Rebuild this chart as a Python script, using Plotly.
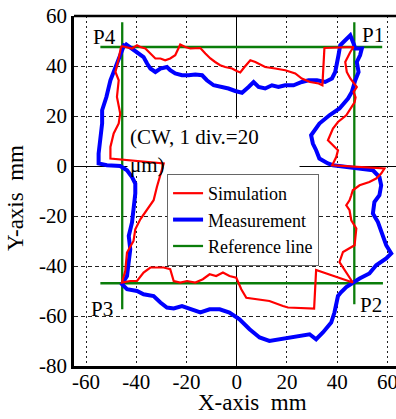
import plotly.graph_objects as go

# ---------------- data (mm) ----------------
sim_x = [-46.0, -43.7, -41.7, -39.7, -38.4, -36.4, -34.4, -32.4, -30.4, -28.5, -26.5, -24.5, -22.5, -20.5,
         -18.5, -16.5, -14.5, -12.5, -10.5, -8.6, -6.6, -4.6, -1.9, 0.0, 1.4, 3.0, 5.4, 7.4, 11.3, 15.3,
         19.3, 23.3, 25.9, 29.2, 32.6, 34.1, 34.9, 46.5, 45.2, 43.2, 43.8, 45.2, 47.8, 46.5, 47.3, 46.9,
         44.9, 43.6, 40.3, 38.3, 36.3, 38.3, 40.3, 39.6, 38.0, 58.8, 57.5, 55.5, 52.8, 48.9, 46.2, 45.6,
         44.9, 43.6, 44.9, 45.6, 47.6, 46.9, 42.3, 40.9, 42.9, 44.9, 46.2, 31.6, 30.8, 20.4, 18.4, 13.0,
         7.8, 3.8, 1.8, -0.2, -2.9, -5.5, -8.2, -10.8, -13.5, -16.5, -19.8, -22.5, -25.1, -26.5, -29.1,
         -31.8, -34.4, -37.1, -39.7, -42.4, -45.7, -44.4, -43.7, -41.1, -40.4, -38.4, -35.7, -33.1, -31.8,
         -30.4, -29.1, -50.3, -50.3, -49.0, -47.0, -46.4, -47.7, -47.0, -48.3, -47.0, -46.0]
sim_y = [48.0, 47.6, 47.0, 48.3, 47.6, 47.0, 45.0, 43.0, 43.0, 42.3, 43.0, 44.3, 48.6, 47.6,
         47.0, 47.2, 47.2, 45.0, 43.0, 41.6, 40.3, 39.6, 39.0, 38.0, 37.4, 39.5, 42.3, 41.6, 39.6, 39.0,
         38.3, 37.0, 35.0, 33.6, 33.0, 32.3, 47.2, 47.6, 45.6, 41.6, 37.6, 35.0, 31.6, 29.6, 27.5, 25.5,
         22.3, 20.3, 17.6, 15.0, 10.3, 8.3, 6.3, 3.6, 0.3, -1.0, -3.0, -5.0, -6.4, -7.7, -9.7, -11.7,
         -13.7, -15.7, -17.7, -21.7, -25.0, -31.7, -34.4, -38.4, -41.7, -45.0, -46.6, -41.6, -57.0, -56.6, -56.0, -54.0,
         -53.3, -52.7, -49.3, -44.7, -44.0, -42.6, -44.0, -43.3, -45.3, -46.6, -46.0, -46.6, -46.0, -41.3, -40.6,
         -40.6, -40.6, -42.6, -46.0, -46.0, -46.6, -42.0, -34.6, -30.0, -25.3, -21.3, -17.3, -13.7, -8.4,
         -3.0, 1.0, 3.0, 7.6, 13.0, 17.0, 21.0, 27.6, 34.3, 37.6, 43.0, 48.0]

meas_x = [-44.6, -41.7, -39.0, -37.1, -35.7, -34.4, -32.4, -30.4, -27.8, -26.5, -24.5, -21.8, -19.2, -16.5,
          -13.8, -11.9, -9.2, -5.9, -3.3, -0.6, 2.1, 4.7, 6.7, 8.7, 11.3, 14.0, 16.6, 19.3, 22.6, 25.9,
          28.6, 31.9, 35.2, 37.9, 39.2, 40.5, 41.2, 43.2, 45.2, 46.5, 47.2, 49.8, 49.1, 47.8, 48.5, 47.2,
          45.8, 44.3, 40.9, 36.9, 32.9, 29.6, 30.3, 31.6, 32.9, 36.3, 38.3, 54.2, 56.8, 57.5, 56.8, 54.8,
          54.2, 56.2, 58.2, 59.5, 61.5, 59.5, 55.5, 52.8, 48.9, 46.2, 43.6, 41.5, 40.3, 38.9, 37.6, 34.3,
          31.6, 29.0, 25.0, 21.0, 17.0, 13.0, 9.1, 5.1, 1.1, -2.9, -6.8, -10.8, -14.5, -18.5, -21.8, -25.1,
          -27.8, -30.4, -33.1, -37.1, -39.7, -43.7, -45.7, -43.7, -43.0, -42.4, -43.0, -41.7, -41.1, -40.4,
          -40.4, -41.7, -43.7, -46.4, -51.7, -55.0, -55.0, -54.3, -53.6, -53.6, -51.9, -50.3, -48.3, -47.0, -44.6]
meas_y = [49.0, 47.0, 45.0, 43.6, 41.0, 39.0, 37.6, 39.0, 39.6, 38.3, 37.0, 36.3, 36.3, 36.6,
          36.3, 34.3, 32.3, 31.6, 31.0, 30.0, 29.3, 31.6, 33.6, 31.6, 31.0, 32.3, 31.6, 32.3, 32.3, 33.6,
          34.3, 34.3, 33.6, 35.0, 37.6, 44.3, 48.3, 50.3, 52.3, 49.0, 47.0, 47.0, 44.3, 41.6, 37.6, 34.3,
          29.6, 27.0, 23.0, 20.3, 17.0, 12.3, 9.0, 6.3, 3.0, 1.0, 0.3, -1.7, -4.4, -7.7, -11.7, -14.4,
          -19.0, -22.4, -27.7, -31.7, -35.0, -37.0, -39.7, -43.0, -45.0, -46.6, -48.4, -50.5, -52.0, -58.6, -62.6, -66.6,
          -69.3, -67.3, -68.0, -68.6, -69.3, -70.0, -68.6, -65.3, -61.3, -58.6, -57.3, -57.3, -58.6, -57.3, -56.0, -57.0,
          -56.6, -54.6, -52.0, -51.3, -50.0, -49.3, -47.3, -44.0, -38.6, -33.3, -28.0, -22.6, -17.3, -11.0,
          -7.0, -4.4, -1.7, 0.0, 0.3, 1.0, 5.0, 10.3, 17.0, 22.3, 27.6, 34.3, 39.6, 43.6, 49.0]

ref_x = [-54.3, 57.9, None, -54.3, 58.2, None, -45.6, -45.6, None, 46.8, 46.8]
ref_y = [47.6, 47.6, None, -46.9, -46.9, None, 57.5, -57.3, None, 57.5, -55.3]

corner_labels = ["P1", "P2", "P3", "P4"]
corner_x = [54.2, 53.4, -53.7, -52.5]
corner_y = [52.3, -55.7, -57.3, 51.5]

x_ticks = [-60, -40, -20, 0, 20, 40, 60]
y_ticks = [-80, -60, -40, -20, 0, 20, 40, 60]

FONT = "Liberation Serif"

fig = go.Figure()
fig.add_trace(go.Scatter(x=ref_x, y=ref_y, mode="lines", name="Reference line",
                         line=dict(color="#0a7d0a", width=2.3), legendrank=3))
fig.add_trace(go.Scatter(x=meas_x, y=meas_y, mode="lines", name="Measurement",
                         line=dict(color="#0000ff", width=4), legendrank=2))
fig.add_trace(go.Scatter(x=sim_x, y=sim_y, mode="lines", name="Simulation",
                         line=dict(color="#ff0000", width=2.2), legendrank=1))

# white box behind note text (hides grid, not traces)
fig.add_shape(type="rect", xref="x", yref="y", x0=-43.5, x1=25, y0=-4, y1=19,
              fillcolor="white", line=dict(width=0), layer="between")
# top frame line
fig.add_shape(type="line", xref="paper", yref="paper", x0=0, x1=1, y0=1, y1=1,
              line=dict(color="black", width=2.5), layer="above")

for t, xx, yy in zip(corner_labels, corner_x, corner_y):
    fig.add_annotation(x=xx, y=yy, xref="x", yref="y", text=t, showarrow=False,
                       xanchor="center", yanchor="middle",
                       font=dict(family=FONT, size=21, color="black"))

fig.add_annotation(x=-43.5, y=11.5, xref="x", yref="y", text="(CW, 1 div.=20",
                   showarrow=False, xanchor="left", yanchor="middle",
                   font=dict(family=FONT, size=21, color="black"))
fig.add_annotation(x=-43.5, y=0.3, xref="x", yref="y", text="μm)",
                   showarrow=False, xanchor="left", yanchor="middle",
                   font=dict(family=FONT, size=21, color="black"))

# axis titles
fig.add_annotation(x=0.553, y=-0.104, xref="paper", yref="paper", text="X-axis  mm",
                   showarrow=False, xanchor="center", yanchor="middle",
                   font=dict(family=FONT, size=23, color="black"))
fig.add_annotation(x=-0.183, y=0.48, xref="paper", yref="paper", text="Y-axis  mm", textangle=-90,
                   showarrow=False, xanchor="center", yanchor="middle",
                   font=dict(family=FONT, size=23, color="black"))

common = dict(showgrid=True, gridcolor="#222", gridwidth=1,
              zeroline=True, zerolinecolor="black", zerolinewidth=1,
              showline=True, linecolor="black", linewidth=2.5, mirror=False,
              ticks="", automargin=False, ticklabeloverflow="allow",
              tickfont=dict(family=FONT, size=21, color="black"))
fig.update_xaxes(range=[-64.8, 63.4], tickvals=x_ticks, ticktext=[str(v) for v in x_ticks],
                 griddash="2px,3px", ticklabelstandoff=-5, **common)
fig.update_yaxes(range=[-80, 60], tickvals=y_ticks, ticktext=[str(v) for v in y_ticks],
                 griddash="4px,3px", **common)

fig.update_layout(
    template="none",
    width=396, height=419,
    margin=dict(l=74, r=0, t=16, b=53, pad=0),
    paper_bgcolor="white", plot_bgcolor="white",
    showlegend=True,
    legend=dict(x=0.289, y=0.5486, xanchor="left", yanchor="top",
                bgcolor="white", bordercolor="#666", borderwidth=1,
                font=dict(family=FONT, size=18, color="black"),
                itemwidth=30, tracegroupgap=0),
    font=dict(family=FONT, color="black"),
)

fig.write_html("out.html")
